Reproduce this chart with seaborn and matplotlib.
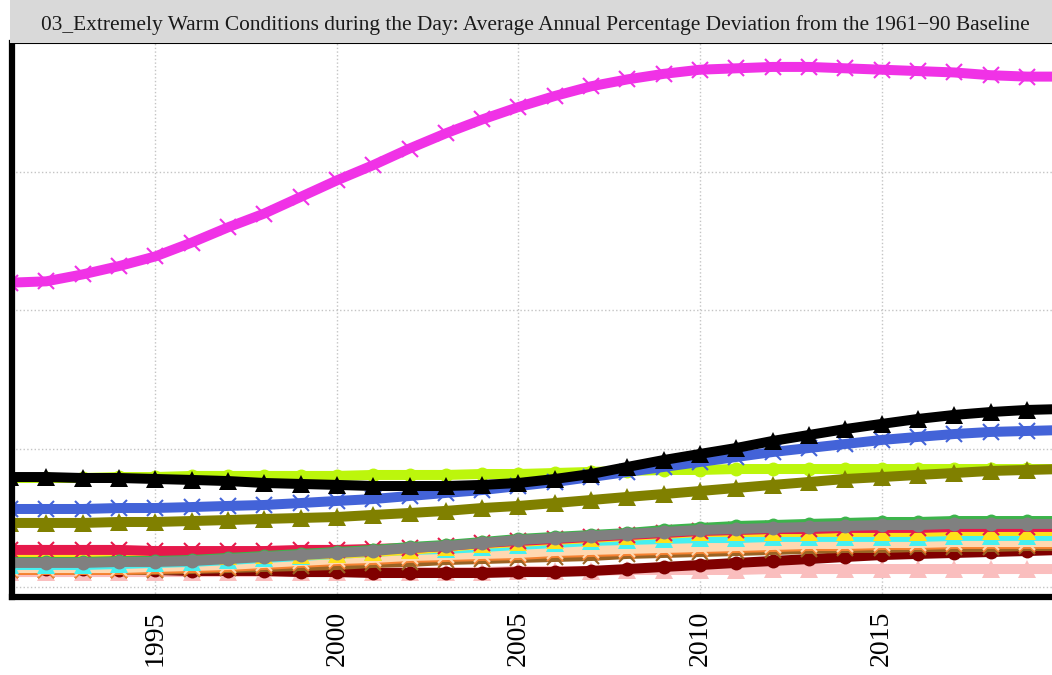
import matplotlib
matplotlib.use("Agg")
import matplotlib.pyplot as plt
import numpy as np
import pandas as pd
import seaborn as sns

# Annual values, 1991-2020 (y labels are cropped in the source)
years = list(range(1991, 2021))

magenta = [22.0, 22.1, 22.6, 23.2, 23.9, 24.9, 26.0, 27.0, 28.2, 29.4,
           30.5, 31.7, 32.8, 33.8, 34.7, 35.5, 36.2, 36.7, 37.1, 37.4,
           37.5, 37.6, 37.6, 37.5, 37.4, 37.3, 37.2, 37.0, 36.9, 36.9]
black = [7.95, 7.95, 7.88, 7.88, 7.81, 7.74, 7.66, 7.52, 7.45, 7.38,
         7.30, 7.30, 7.30, 7.38, 7.52, 7.81, 8.17, 8.68, 9.18, 9.62,
         10.05, 10.56, 10.99, 11.42, 11.79, 12.15, 12.44, 12.65, 12.80, 12.87]
blue = [5.64, 5.64, 5.64, 5.71, 5.71, 5.78, 5.86, 5.93, 6.07, 6.22,
        6.36, 6.58, 6.80, 7.01, 7.30, 7.59, 7.95, 8.32, 8.68, 9.04,
        9.40, 9.76, 10.05, 10.34, 10.63, 10.85, 11.06, 11.21, 11.28, 11.35]
lime = [7.88, 7.88, 7.88, 7.95, 7.95, 8.03, 8.03, 8.03, 8.03, 8.03,
        8.10, 8.10, 8.10, 8.17, 8.17, 8.24, 8.32, 8.39, 8.46, 8.46,
        8.53, 8.53, 8.53, 8.53, 8.53, 8.53, 8.53, 8.53, 8.53, 8.53]
olive = [4.63, 4.63, 4.63, 4.70, 4.70, 4.77, 4.84, 4.92, 4.99, 5.06,
         5.21, 5.35, 5.50, 5.71, 5.86, 6.07, 6.29, 6.51, 6.72, 6.94,
         7.16, 7.38, 7.59, 7.81, 7.95, 8.10, 8.24, 8.39, 8.46, 8.53]
grey = [1.74, 1.74, 1.74, 1.81, 1.81, 1.88, 2.02, 2.17, 2.31, 2.46,
        2.60, 2.82, 2.96, 3.18, 3.40, 3.54, 3.69, 3.83, 3.98, 4.12,
        4.19, 4.27, 4.34, 4.41, 4.48, 4.48, 4.56, 4.56, 4.56, 4.56]
green = [1.81, 1.81, 1.81, 1.88, 1.88, 1.95, 2.10, 2.24, 2.39, 2.53,
         2.68, 2.89, 3.04, 3.25, 3.47, 3.62, 3.76, 3.90, 4.12, 4.27,
         4.41, 4.48, 4.56, 4.63, 4.70, 4.70, 4.77, 4.77, 4.77, 4.77]
red = [2.68, 2.68, 2.68, 2.68, 2.60, 2.60, 2.60, 2.60, 2.68, 2.68,
       2.75, 2.82, 2.96, 3.18, 3.33, 3.47, 3.62, 3.76, 3.90, 4.05,
       4.12, 4.19, 4.19, 4.27, 4.27, 4.27, 4.34, 4.34, 4.34, 4.34]
yellow = [2.24, 2.24, 2.24, 2.24, 2.24, 2.24, 2.24, 2.31, 2.31, 2.39,
          2.53, 2.68, 2.89, 3.11, 3.25, 3.40, 3.54, 3.69, 3.83, 3.98,
          3.98, 3.98, 3.98, 3.98, 3.98, 3.98, 4.05, 4.05, 4.05, 4.05]
cyan = [1.59, 1.59, 1.59, 1.66, 1.74, 1.81, 1.95, 2.10, 2.24, 2.39,
        2.53, 2.68, 2.75, 2.89, 3.04, 3.18, 3.33, 3.40, 3.47, 3.54,
        3.54, 3.62, 3.62, 3.62, 3.62, 3.62, 3.69, 3.69, 3.69, 3.69]
apricot = [1.37, 1.37, 1.37, 1.37, 1.45, 1.52, 1.59, 1.74, 1.88, 2.02,
           2.10, 2.24, 2.31, 2.39, 2.46, 2.60, 2.68, 2.75, 2.82, 2.89,
           2.96, 3.04, 3.11, 3.11, 3.18, 3.18, 3.25, 3.25, 3.25, 3.25]
orange = [1.23, 1.23, 1.23, 1.23, 1.30, 1.37, 1.45, 1.59, 1.74, 1.88,
          1.95, 2.10, 2.17, 2.24, 2.31, 2.46, 2.53, 2.60, 2.68, 2.75,
          2.82, 2.89, 2.96, 2.96, 3.04, 3.04, 3.11, 3.11, 3.11, 3.11]
brown = [1.23, 1.23, 1.23, 1.23, 1.23, 1.30, 1.37, 1.45, 1.52, 1.59,
         1.74, 1.81, 1.95, 2.02, 2.10, 2.17, 2.24, 2.39, 2.46, 2.53,
         2.60, 2.68, 2.75, 2.82, 2.82, 2.89, 2.89, 2.89, 2.96, 2.96]
maroon = [1.30, 1.30, 1.30, 1.23, 1.23, 1.16, 1.16, 1.16, 1.08, 1.08,
          1.01, 1.01, 1.01, 1.01, 1.08, 1.08, 1.16, 1.30, 1.45, 1.59,
          1.74, 1.88, 2.02, 2.17, 2.31, 2.39, 2.46, 2.53, 2.60, 2.68]
pink = [1.08, 1.08, 1.08, 1.08, 1.08, 1.08, 1.08, 1.08, 1.08, 1.08,
        1.08, 1.08, 1.08, 1.08, 1.16, 1.16, 1.16, 1.23, 1.23, 1.23,
        1.23, 1.30, 1.30, 1.30, 1.30, 1.30, 1.30, 1.30, 1.30, 1.30]

# drawing order: first entry ends up at the bottom
series = {
    "pink": pink, "maroon": maroon, "brown": brown, "orange": orange,
    "apricot": apricot, "cyan": cyan, "yellow": yellow, "red": red,
    "green": green, "grey": grey, "lime": lime, "olive": olive,
    "blue": blue, "black": black, "magenta": magenta,
}
colors = {
    "pink": "#fabebe", "maroon": "#800000", "brown": "#9a6324",
    "orange": "#f58231", "apricot": "#ffd8b1", "cyan": "#46f0f0",
    "yellow": "#ffe119", "red": "#e6194b", "green": "#3cb44b",
    "grey": "#808080", "olive": "#808000", "lime": "#bcf60c",
    "blue": "#4363d8", "black": "#000000", "magenta": "#f032e6",
}
markers = {
    "pink": "^", "maroon": "o", "brown": "x", "orange": "x",
    "apricot": "x", "cyan": "^", "yellow": "^", "red": "x",
    "green": "o", "grey": "o", "olive": "^", "lime": "o",
    "blue": "x", "black": "^", "magenta": "x",
}
msize = {"x": 12, "^": 13, "o": 10}

df = pd.DataFrame({
    "year": years * len(series),
    "value": np.concatenate([series[k] for k in series]),
    "series": np.repeat(list(series), len(years)),
})

sns.set_style("white")
plt.rcParams["font.family"] = ["Liberation Serif", "DejaVu Serif"]

W, H = 1052, 675
fig = plt.figure(figsize=(W / 100, H / 100), dpi=100)

# panel extends a little past the right edge, as in the cropped source
px_per_year = 36.38
x0, x1 = 1991.04, 2019.95
left_px, bottom_px, top_px = 11.5, 596.5, 43
width_px = (x1 - x0) * px_per_year
ax = fig.add_axes([left_px / W, (H - bottom_px) / H,
                   width_px / W, (bottom_px - top_px) / H])

for name in series:
    sub = df[df["series"] == name]
    m = markers[name]
    sns.lineplot(data=sub, x="year", y="value", color=colors[name],
                 linewidth=7.2, errorbar=None, legend=False, ax=ax,
                 solid_capstyle="butt", marker=m, markersize=msize[m],
                 markeredgecolor=colors[name],
                 markeredgewidth=1.5 if m == "x" else 0)

ax.set_xlim(x0, x1)
ax.set_ylim(-0.687, 39.33)
ax.set_xticks([1995, 2000, 2005, 2010, 2015, 2020])
ax.set_yticks([0, 10, 20, 30])
ax.set_yticklabels([])
ax.set_xlabel("")
ax.set_ylabel("")
ax.tick_params(axis="x", labelrotation=90, labelsize=20, length=5, width=2,
               color="#333333", pad=5, labelcolor="black")
ax.tick_params(axis="y", length=6, width=2.5, color="#333333")
ax.grid(True, linestyle=":", color="#c4c4c4", linewidth=1)
ax.set_axisbelow(True)

for side in ["top", "right"]:
    ax.spines[side].set_linewidth(1.5)
    ax.spines[side].set_color("black")
for side in ["left", "bottom"]:
    ax.spines[side].set_linewidth(4.5)
    ax.spines[side].set_color("black")

# facet strip
strip_h = top_px + 6.75
strip = fig.add_axes([(left_px - 1.5) / W, (H - top_px) / H,
                      width_px / W, strip_h / H])
strip.set_facecolor("#d9d9d9")
strip.set_xticks([])
strip.set_yticks([])
for s in strip.spines.values():
    s.set_visible(False)
strip.text(0.5, 13 / strip_h,
           "03_Extremely Warm Conditions during the Day: Average Annual "
           "Percentage Deviation from the 1961\u221290 Baseline",
           ha="center", va="baseline", fontsize=15.4, color="#1a1a1a",
           transform=strip.transAxes)

fig.savefig("out.png", dpi=100)
